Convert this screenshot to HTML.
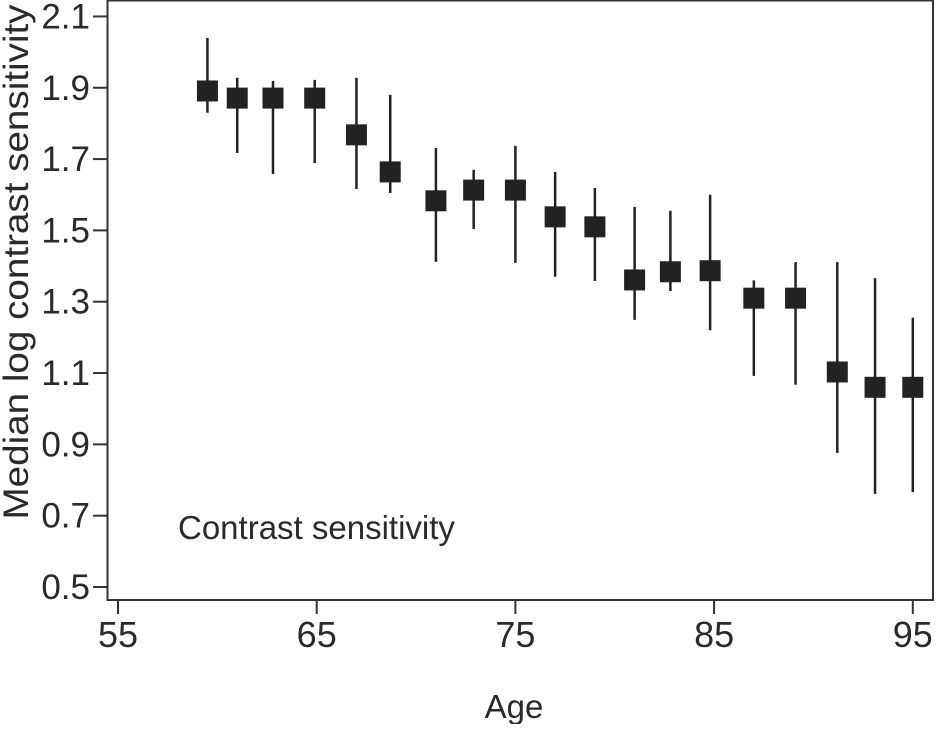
<!DOCTYPE html>
<html><head><meta charset="utf-8"><style>
body{margin:0;background:#fff}
svg text{font-family:"Liberation Sans",sans-serif;fill:#2a2a2a}
</style></head><body>
<svg id="chart" width="936" height="724" xmlns="http://www.w3.org/2000/svg">
<rect x="107.5" y="0.5" width="825.5" height="599.5" fill="none" stroke="#333" stroke-width="2"/>
<g id="xaxis"></g>
<g id="yaxis"></g>
<g id="marks"></g>
<text x="514" y="718" font-size="33" text-anchor="middle">Age</text>
<text transform="translate(28,262) rotate(-90)" font-size="35" text-anchor="middle" textLength="515" lengthAdjust="spacingAndGlyphs">Median log contrast sensitivity</text>
<text x="178" y="539" font-size="33">Contrast sensitivity</text>
</svg>
<script>
const ages=[59.5,61,62.8,64.9,67,68.7,71,72.9,75,77,79,81,82.8,84.8,87,89.1,91.2,93.1,95];
const medians=[1.891,1.871,1.871,1.871,1.768,1.664,1.583,1.613,1.613,1.538,1.51,1.361,1.384,1.387,1.31,1.31,1.103,1.06,1.06];
const upper=[2.04,1.928,1.919,1.922,1.928,1.88,1.731,1.67,1.737,1.664,1.619,1.566,1.555,1.6,1.36,1.411,1.411,1.366,1.255];
const lower=[1.83,1.717,1.658,1.689,1.616,1.605,1.412,1.504,1.409,1.37,1.358,1.249,1.33,1.22,1.092,1.067,0.876,0.761,0.766];
const xTicks=[55,65,75,85,95];
const yTicks=[0.5,0.7,0.9,1.1,1.3,1.5,1.7,1.9,2.1];
const NS="http://www.w3.org/2000/svg";
const xs=v=>118+(v-55)*19.87;
const ys=v=>587-(v-0.5)*356.6;
function mk(tag,attrs,parent){const e=document.createElementNS(NS,tag);for(const k in attrs)e.setAttribute(k,attrs[k]);parent.appendChild(e);return e;}
const xa=document.getElementById('xaxis'),ya=document.getElementById('yaxis'),mg=document.getElementById('marks');
xTicks.forEach(t=>{
 const l=mk('line',{x1:xs(t),x2:xs(t),y1:600,y2:614,stroke:'#333','stroke-width':2},xa);
 
 
 const tx=mk('text',{x:xs(t),y:647,'font-size':36,'text-anchor':'middle'},xa);tx.textContent=t;
 
 
});
yTicks.forEach(t=>{
 const l=mk('line',{x1:93,x2:107,y1:ys(t),y2:ys(t),stroke:'#333','stroke-width':2},ya);
 
 
 const tx=mk('text',{x:90,y:ys(t)+12,'font-size':35,'text-anchor':'end'},ya);tx.textContent=t.toFixed(1);
 
 
});
ages.forEach((a,i)=>{
 const g=mk('g',{},mg);
 
 
 const w=mk('line',{x1:xs(a),x2:xs(a),y1:ys(upper[i]),y2:ys(lower[i]),stroke:'#222','stroke-width':2.5},g);
 
 
 const r=mk('rect',{x:xs(a)-10.5,y:ys(medians[i])-10.5,width:21,height:21,fill:'#222'},g);
 
 
});
</script>
</body></html>
